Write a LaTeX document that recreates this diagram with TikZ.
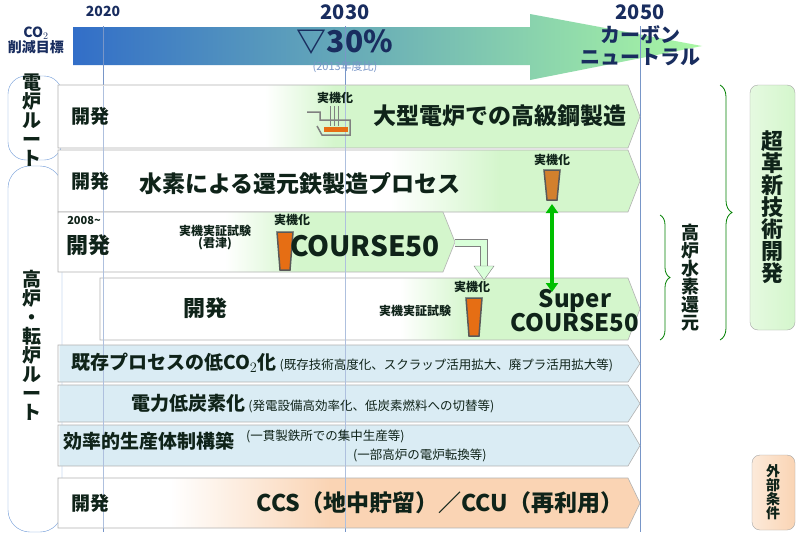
\documentclass[tikz,border=0pt]{standalone}
\usepackage{fontspec}
\setmainfont{Noto Sans CJK JP}
\usetikzlibrary{arrows.meta,decorations.pathreplacing}
\definecolor{navy}{RGB}{25,45,95}
\definecolor{ink}{RGB}{15,35,25}
\definecolor{gline}{RGB}{120,150,200}
\definecolor{lgreen}{RGB}{212,246,204}
\definecolor{lblue}{RGB}{218,236,244}
\definecolor{lorange}{RGB}{250,212,180}
\definecolor{bblue}{RGB}{50,110,200}
\definecolor{furn}{RGB}{230,110,20}
\newcommand{\fs}[1]{\fontsize{#1}{#1}\selectfont}
\tikzset{
  lbl/.style={font=\bfseries, text=ink, inner sep=1pt},
  small/.style={font=\bfseries\fs{12}, text=ink, inner sep=1pt, align=center},
  rowedge/.style={draw=gray!60, line width=0.6pt},
  furnace/.style={draw=gray!70!black, line width=1.5pt, fill=furn},
}
% chevron row: #1 x-left, #2 y-top, #3 x-tip, #4 y-bottom
\newcommand{\chevpath}[4]{(#1,#2) -- (#3-12,#2) -- (#3,{(#2+#4)/2}) -- (#3-12,#4) -- (#1,#4) -- cycle}
\newcommand{\chevrow}[7]{%
  \fill[white] \chevpath{#1}{#2}{#3}{#4};
  \begin{scope}
    \clip \chevpath{#1}{#2}{#3}{#4};
    \shade[left color=white, right color=#7] (#5,#2) rectangle (#6,#4);
    \fill[#7] (#6,#2) rectangle (#3,#4);
  \end{scope}
  \draw[rowedge] \chevpath{#1}{#2}{#3}{#4};
}
\begin{document}
\begin{tikzpicture}[x=1pt,y=-1pt]
  \useasboundingbox (0,0) rectangle (800,541);
  \fill[white] (0,0) rectangle (800,541);

  % CO2 target arrow
  \shade[left color=bblue, middle color=cyan!10!white, right color=lgreen!80!green]
    (73,27) -- (530,27) -- (530,14) -- (702,46) -- (530,80) -- (530,65) -- (73,65) -- cycle;
  \node[font=\bfseries\fs{14}, text=navy] (y2020) at (103,11) {2020};
  \node[font=\bfseries\fs{20}, text=navy] (y2030) at (345,12) {2030};
  \node[font=\bfseries\fs{20}, text=navy] (y2050) at (640,12) {2050};
  \node[font=\bfseries\fs{14}, text=navy, align=center, inner sep=0pt] (co2) at (36,40) {CO$_2$\\削減目標};
  \node[font=\bfseries\fs{30}, text=navy] (goal) at (345,42) {▽30\%};
  \node[font=\fs{11}, text=gline] (base) at (345,67) {(2013年度比)};
  \node[font=\bfseries\fs{20}, text=navy, align=center, inner sep=0pt] (cn) at (640,46) {カーボン\\[2pt]ニュートラル};
  \foreach \gx in {103,345,640}
    \draw[gline, line width=0.5pt] (\gx,26) -- (\gx,532);

  % route boxes
  \draw[bblue!70, fill=white, rounded corners=18pt] (8,76) rectangle (62,160);
  \draw[bblue!70, fill=white, rounded corners=22pt] (8,166) rectangle (62,532);
  \node[lbl, align=center, font=\bfseries\fs{19}] (eaf) at (32,120) {電\\炉\\ル\\ー\\ト};
  \node[lbl, align=center, font=\bfseries\fs{19}] (bf) at (32,345) {高\\炉\\・\\転\\炉\\ル\\ー\\ト};

  % rows
  \chevrow{58}{85}{640}{148}{265}{335}{lgreen}
  \chevrow{58}{150}{640}{212}{390}{500}{lgreen}
  \chevrow{58}{212}{455}{272}{225}{300}{lgreen}
  \chevrow{100}{278}{640}{340}{400}{470}{lgreen}
  \chevrow{58}{345}{640}{382}{58}{60}{lblue}
  \chevrow{58}{385}{640}{422}{58}{60}{lblue}
  \chevrow{58}{425}{640}{466}{58}{60}{lblue}
  \chevrow{58}{478}{640}{528}{170}{330}{lorange}
  \foreach \gx in {103,345}
    \draw[gline!60, line width=0.4pt] (\gx,86) -- (\gx,528);

  % row 1
  \node[lbl, font=\bfseries\fs{19}] (dev1) at (90,116) {開発};
  \node[small] (jk1) at (335,98) {実機化};
  \draw[gray, line width=1.5pt] (307,112) -- (320,112) -- (320,120) -- (350,120) -- (350,135) -- (322,135) -- (317,126);
  \fill[furn] (324,127) rectangle (348,132);
  \foreach \px in {330,334,338} \draw[gray, line width=1pt] (\px,106) -- (\px,126);
  \node[lbl, font=\bfseries\fs{23}] (eafmain) at (500,116) {大型電炉での高級鋼製造};

  % row 2
  \node[lbl, font=\bfseries\fs{19}] (dev2) at (90,181) {開発};
  \node[lbl, font=\bfseries\fs{23}] (h2) at (300,184) {水素による還元鉄製造プロセス};
  \node[small] (jk2) at (552,160) {実機化};
  \draw[furnace, fill=brown!70!orange] (544,170) -- (560,170) -- (557,200) -- (547,200) -- cycle;
  \coordinate (h2bot) at (552,204);

  % row 3
  \node[small, font=\bfseries\fs{11}] (since) at (84,221) {2008\textasciitilde};
  \node[lbl, font=\bfseries\fs{22}] (dev3) at (88,245) {開発};
  \node[small] (test3) at (215,238) {実機実証試験\\(君津)};
  \node[small] (jk3) at (292,220) {実機化};
  \draw[furnace] (277,232) -- (293,232) -- (290,270) -- (280,270) -- cycle;
  \node[lbl, font=\bfseries\fs{28}] (c50) at (365,246) {COURSE50};

  % hollow U-turn arrow
  \draw[gray, line width=8pt] (455,243) -- (484,243) -- (484,266);
  \draw[green!15, line width=6pt] (455,243) -- (484,243) -- (484,267);
  \draw[gray, fill=green!15] (474,266) -- (494,266) -- (484,280) -- cycle;

  % row 4
  \node[lbl, font=\bfseries\fs{22}] (dev4) at (205,308) {開発};
  \node[small] (test4) at (415,311) {実機実証試験};
  \node[small] (jk4) at (472,287) {実機化};
  \draw[furnace] (466,298) -- (482,298) -- (479,336) -- (469,336) -- cycle;
  \node[lbl, font=\bfseries\fs{24}, align=center] (sc50) at (575,311) {Super\\COURSE50};
  \coordinate (sctop) at (552,292);
  \draw[green!75!black, line width=3.5pt, {Triangle[length=9pt,width=12pt]}-{Triangle[length=9pt,width=12pt]}] (h2bot) -- (sctop);

  % rows 5-7
  \node[lbl, anchor=west] (low) at (70,363) {\fs{19}既存プロセスの低CO$_2$化\,\mdseries\fs{12.5}(既存技術高度化、スクラップ活用拡大、廃プラ活用拡大等)};
  \node[lbl, anchor=west] (power) at (130,404) {\fs{19}電力低炭素化\,\mdseries\fs{12.5}(発電設備高効率化、低炭素燃料への切替等)};
  \node[lbl, anchor=west] (eff) at (62,441) {\fs{19}効率的生産体制構築};
  \node[lbl, anchor=west, font=\fs{12.5}] (eff1) at (245,436) {(一貫製鉄所での集中生産等)};
  \node[lbl, anchor=west, font=\fs{12.5}] (eff2) at (352,455) {(一部高炉の電炉転換等)};

  % row 8
  \node[lbl, font=\bfseries\fs{19}] (dev8) at (90,503) {開発};
  \node[lbl, font=\bfseries\fs{23}] (ccs) at (440,503) {CCS（地中貯留）／CCU（再利用）};

  % braces and right boxes
  \draw[green!50!black, line width=0.8pt, decorate, decoration={brace, amplitude=10pt}] (660,215) -- (660,340);
  \node[lbl, align=center, font=\bfseries\fs{18}] (h2red) at (690,278) {高\\炉\\水\\素\\還\\元};
  \draw[green!50!black, line width=0.8pt, decorate, decoration={brace, amplitude=12pt}] (720,85) -- (720,340);
  \shade[draw=gray!70, rounded corners=8pt, left color=lgreen!60, right color=lgreen] (750,85) rectangle (795,330);
  \node[lbl, align=center, font=\bfseries\fs{22}] (super) at (772,207) {超\\革\\新\\技\\術\\開\\発};
  \shade[draw=gray!70, rounded corners=8pt, left color=lorange!50, right color=lorange] (752,455) rectangle (795,530);
  \node[lbl, align=center, font=\bfseries\fs{14}] (ext) at (773,492) {外\\部\\条\\件};
\end{tikzpicture}
\end{document}
